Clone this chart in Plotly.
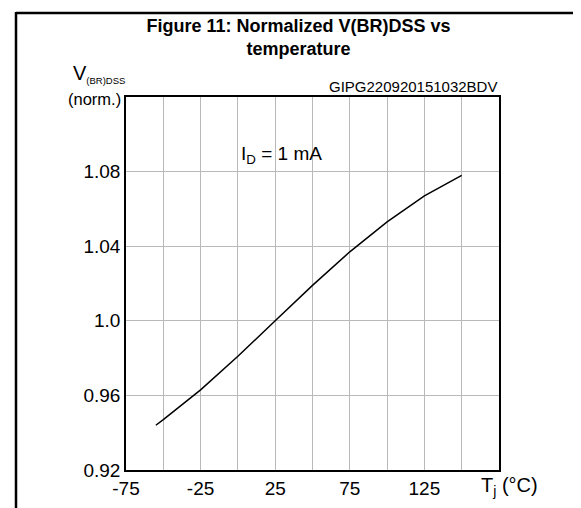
import plotly.graph_objects as go

# Data
temperature = [-55, -50, -25, 0, 25, 50, 75, 100, 125, 150]
v_norm = [0.944, 0.947, 0.963, 0.981, 1.000, 1.019, 1.037, 1.053, 1.067, 1.078]

x_tickvals = [-75, -25, 25, 75, 125]
x_ticktext = ["-75", "-25", "25", "75", "125"]
y_tickvals = [0.92, 0.96, 1.00, 1.04, 1.08]
y_ticktext = ["0.92", "0.96", "1.0", "1.04", "1.08"]

FONT = "Liberation Sans, Arial, sans-serif"
GRID = "#b9b9b9"

W, H = 581, 508
L, R, T, B = 118, 90, 89, 46
pw, ph = W - L - R, H - T - B

def px(xpix):
    return (xpix - L) / pw

def py(ypix):
    return (H - B - ypix) / ph

fig = go.Figure()
fig.add_trace(go.Scatter(
    x=temperature, y=v_norm, mode="lines",
    line=dict(color="black", width=1.5), hoverinfo="skip", showlegend=False,
))

fig.update_layout(
    width=W, height=H,
    margin=dict(l=L, r=R, t=T, b=B),
    paper_bgcolor="white", plot_bgcolor="white",
    font=dict(family=FONT, size=20, color="black"),
    showlegend=False,
    title=dict(
        text="<b>Figure 11: Normalized V(BR)DSS vs<br>temperature</b>",
        font=dict(family=FONT, size=18, color="black"),
        xref="container", yref="container",
        x=0.5, xanchor="center", y=1 - 24 / H, yanchor="middle",
    ),
    xaxis=dict(
        range=[-75, 175], tickmode="array", tickvals=x_tickvals, ticktext=x_ticktext,
        showgrid=True, gridcolor=GRID, gridwidth=1,
        minor=dict(dtick=25, tick0=-75, showgrid=True, gridcolor=GRID, gridwidth=1),
        showline=True, linecolor="black", linewidth=1.5, mirror=True,
        ticks="", ticklen=0, tickfont=dict(size=19), zeroline=False,
    ),
    yaxis=dict(
        range=[0.92, 1.12], tickmode="array", tickvals=y_tickvals, ticktext=y_ticktext,
        showgrid=True, gridcolor=GRID, gridwidth=1,
        showline=True, linecolor="black", linewidth=1.5, mirror=True,
        ticks="", ticklen=0, tickfont=dict(size=19), zeroline=False,
    ),
    annotations=[
        dict(text="I<sub>D</sub> = 1 mA", x=1, y=1.089, xref="x", yref="y",
             xanchor="left", yanchor="middle", showarrow=False,
             font=dict(size=19)),
        dict(text="GIPG220920151032BDV", x=1, y=1, xref="paper", yref="paper",
             xanchor="right", yanchor="bottom", showarrow=False, yshift=0,
             font=dict(size=15)),
        dict(text="V<sub><span style=\"font-size:9.5px\">(BR)DSS</span></sub>",
             x=px(119), y=py(66),
             xref="paper", yref="paper", xanchor="right", yanchor="middle",
             showarrow=False, font=dict(size=20)),
        dict(text="(norm.)",
             x=px(115), y=py(91),
             xref="paper", yref="paper", xanchor="right", yanchor="middle",
             showarrow=False, font=dict(size=16.5)),
        dict(text="T<sub>j</sub> (°C)", x=px(471), y=py(478),
             xref="paper", yref="paper", xanchor="left", yanchor="middle",
             showarrow=False, font=dict(size=20)),
    ],
    shapes=[
        dict(type="line", xref="paper", yref="paper", x0=px(8), x1=px(8),
             y0=py(4), y1=py(H + 2), line=dict(color="black", width=2.5)),
        dict(type="line", xref="paper", yref="paper", x0=px(8), x1=px(580),
             y0=py(5), y1=py(5), line=dict(color="black", width=2.5)),
        dict(type="line", xref="paper", yref="paper", x0=px(580), x1=px(580),
             y0=py(4), y1=py(H + 2), line=dict(color="black", width=2.5)),
    ],
)

fig.write_html("out.html")
